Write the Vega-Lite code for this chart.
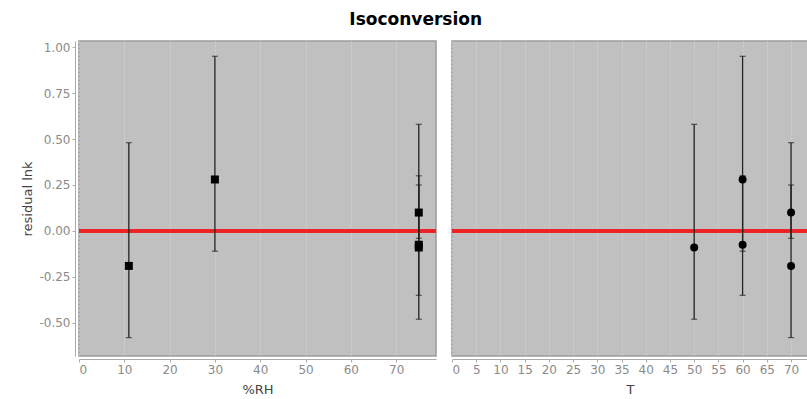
{
  "$schema": "https://vega.github.io/schema/vega-lite/v6.json",
  "autosize": {"type": "pad"},
  "padding": {"left": 21, "top": 11, "right": 0, "bottom": 0},
  "background": "white",
  "title": {"text": "Isoconversion", "font": "DejaVu Sans", "fontSize": 17, "fontWeight": "bold", "color": "#000", "anchor": "middle", "offset": 11},
  "datasets": {
    "pts": [
      {"RH": 11, "T": 70, "resid": -0.19, "lo": -0.58, "hi": 0.48},
      {"RH": 30, "T": 60, "resid": 0.28, "lo": -0.11, "hi": 0.95},
      {"RH": 75, "T": 50, "resid": -0.09, "lo": -0.48, "hi": 0.58},
      {"RH": 75, "T": 60, "resid": -0.075, "lo": -0.35, "hi": 0.30},
      {"RH": 75, "T": 70, "resid": 0.10, "lo": -0.04, "hi": 0.25}
    ]
  },
  "config": {
    "view": {"fill": "#c0c0c0", "stroke": "#9a9a9a", "strokeWidth": 1.5},
    "axis": {
      "labelFont": "DejaVu Sans", "labelFontSize": 12, "labelColor": "#8a8a8a",
      "titleFont": "DejaVu Sans", "titleFontSize": 13, "titleFontWeight": "normal", "titleColor": "#444",
      "domainColor": "#aaaaaa", "tickColor": "#aaaaaa", "tickSize": 3,
      "gridColor": "#d6d6d6", "gridDash": [2, 2], "gridWidth": 1, "gridOpacity": 0.8
    }
  },
  "spacing": 10,
  "hconcat": [
    {
      "width": 357,
      "height": 315,
      "data": {"name": "pts"},
      "encoding": {
        "x": {"field": "RH", "type": "quantitative", "scale": {"domain": [0, 78.8], "nice": false, "zero": false},
              "axis": {"title": "%RH", "values": [0, 10, 20, 30, 40, 50, 60, 70], "offset": 3, "titlePadding": 8}}
      },
      "layer": [
        {
          "mark": {"type": "rule", "color": "#ee2222", "strokeWidth": 3},
          "encoding": {"x": null, "y": {"datum": 0, "type": "quantitative"}}
        },
        {
          "mark": {"type": "rule", "color": "#222", "strokeWidth": 1.3},
          "encoding": {
            "y": {"field": "lo", "type": "quantitative"},
            "y2": {"field": "hi"}
          }
        },
        {
          "mark": {"type": "tick", "orient": "horizontal", "color": "#222", "size": 6, "thickness": 1.2},
          "encoding": {"y": {"field": "lo", "type": "quantitative"}}
        },
        {
          "mark": {"type": "tick", "orient": "horizontal", "color": "#222", "size": 6, "thickness": 1.2},
          "encoding": {"y": {"field": "hi", "type": "quantitative"}}
        },
        {
          "mark": {"type": "point", "shape": "square", "filled": true, "color": "#000", "size": 64, "opacity": 1},
          "encoding": {
            "y": {"field": "resid", "type": "quantitative", "scale": {"domain": [-0.68, 1.033], "nice": false, "zero": false},
                  "axis": {"title": "residual lnk", "values": [-0.5, -0.25, 0, 0.25, 0.5, 0.75, 1], "labelExpr": "replace(format(datum.value, '.2f'), '\u2212', '-')", "offset": 4, "titlePadding": 4}}
          }
        }
      ]
    },
    {
      "width": 356,
      "height": 315,
      "data": {"name": "pts"},
      "encoding": {
        "x": {"field": "T", "type": "quantitative", "scale": {"domain": [0, 73.5], "nice": false, "zero": false},
              "axis": {"title": "T", "values": [0, 5, 10, 15, 20, 25, 30, 35, 40, 45, 50, 55, 60, 65, 70], "offset": 3, "titlePadding": 8}}
      },
      "layer": [
        {
          "mark": {"type": "rule", "color": "#ee2222", "strokeWidth": 3},
          "encoding": {"x": null, "y": {"datum": 0, "type": "quantitative"}}
        },
        {
          "mark": {"type": "rule", "color": "#222", "strokeWidth": 1.3},
          "encoding": {
            "y": {"field": "lo", "type": "quantitative"},
            "y2": {"field": "hi"}
          }
        },
        {
          "mark": {"type": "tick", "orient": "horizontal", "color": "#222", "size": 6, "thickness": 1.2},
          "encoding": {"y": {"field": "lo", "type": "quantitative"}}
        },
        {
          "mark": {"type": "tick", "orient": "horizontal", "color": "#222", "size": 6, "thickness": 1.2},
          "encoding": {"y": {"field": "hi", "type": "quantitative"}}
        },
        {
          "mark": {"type": "point", "shape": "circle", "filled": true, "color": "#000", "size": 64, "opacity": 1},
          "encoding": {
            "y": {"field": "resid", "type": "quantitative", "scale": {"domain": [-0.68, 1.033], "nice": false, "zero": false},
                  "axis": {"title": null, "values": [-0.5, -0.25, 0, 0.25, 0.5, 0.75, 1], "labels": false, "ticks": false, "domain": false}}
          }
        }
      ]
    }
  ]
}
